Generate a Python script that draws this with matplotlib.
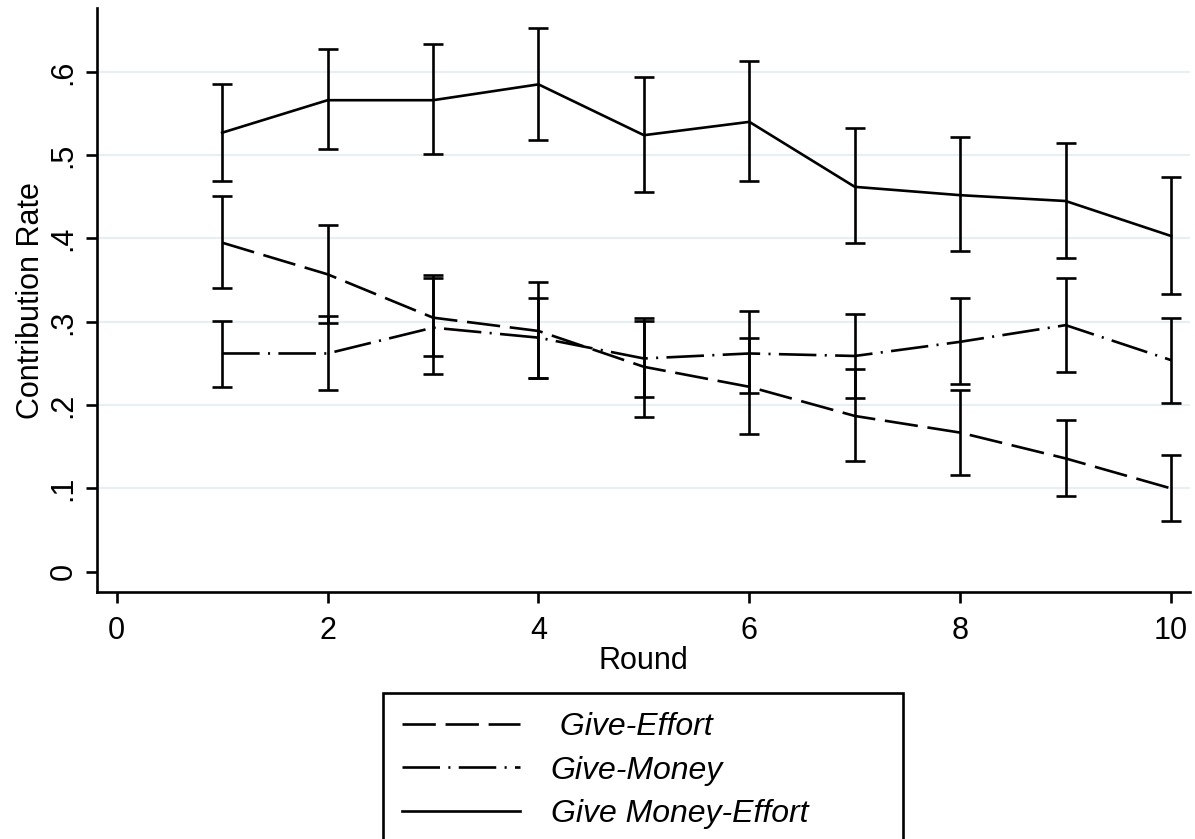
import matplotlib
matplotlib.use("Agg")
import matplotlib.pyplot as plt

plt.rcParams['font.family'] = ['Liberation Sans', 'DejaVu Sans']
plt.rcParams['lines.scale_dashes'] = False

# data
rounds = [1, 2, 3, 4, 5, 6, 7, 8, 9, 10]

effort = [0.395, 0.357, 0.305, 0.289, 0.246, 0.222, 0.187, 0.167, 0.136, 0.100]
effort_hi = [0.451, 0.416, 0.356, 0.348, 0.304, 0.280, 0.243, 0.218, 0.182, 0.140]
effort_lo = [0.341, 0.299, 0.259, 0.232, 0.186, 0.165, 0.133, 0.116, 0.0905, 0.061]

money = [0.262, 0.262, 0.293, 0.281, 0.256, 0.262, 0.259, 0.276, 0.296, 0.254]
money_hi = [0.301, 0.307, 0.352, 0.328, 0.301, 0.313, 0.309, 0.329, 0.352, 0.305]
money_lo = [0.222, 0.218, 0.237, 0.233, 0.210, 0.215, 0.209, 0.225, 0.240, 0.203]

both = [0.527, 0.566, 0.566, 0.585, 0.524, 0.540, 0.462, 0.452, 0.445, 0.403]
both_hi = [0.585, 0.628, 0.633, 0.653, 0.594, 0.613, 0.533, 0.522, 0.515, 0.474]
both_lo = [0.469, 0.508, 0.501, 0.518, 0.456, 0.469, 0.394, 0.385, 0.376, 0.333]

labels = [' Give-Effort', 'Give-Money', 'Give Money-Effort']
yticks = [0, 0.1, 0.2, 0.3, 0.4, 0.5, 0.6]
ytick_labels = ['0', '.1', '.2', '.3', '.4', '.5', '.6']
xticks = [0, 2, 4, 6, 8, 10]

fig = plt.figure(figsize=(11.95, 8.39), dpi=100)
ax = fig.add_axes([0.0809, 0.294, 0.915, 0.6965])

lw = 1.9
series = [
    (effort, effort_lo, effort_hi, (0, (24, 7))),
    (money, money_lo, money_hi, (0, (27, 6, 1.5, 6))),
    (both, both_lo, both_hi, '-'),
]

handles = []
for (vals, lo, hi, ls), lab in zip(series, labels):
    yerr = [[v - l for v, l in zip(vals, lo)], [h - v for v, h in zip(vals, hi)]]
    ax.errorbar(rounds, vals, yerr=yerr, fmt='none', ecolor='black',
                elinewidth=lw, capsize=7, capthick=lw)
    ln, = ax.plot(rounds, vals, color='black', lw=lw, linestyle=ls, label=lab)
    handles.append(ln)

ax.set_xlim(-0.19, 10.18)
ax.set_ylim(-0.0247, 0.6767)

for t in yticks[1:]:
    ax.axhline(t, color='#e7eff2', lw=1.6, zorder=0)

ax.set_yticks(yticks)
ax.set_yticklabels(ytick_labels, rotation=90, va='center', fontsize=22)
ax.set_xticks(xticks)
ax.set_xticklabels([str(v) for v in xticks], fontsize=22)

ax.tick_params(axis='both', direction='out', length=8, width=lw, color='black')
ax.tick_params(axis='y', pad=5)
ax.tick_params(axis='x', pad=9)

for s in ['top', 'right']:
    ax.spines[s].set_visible(False)
for s in ['left', 'bottom']:
    ax.spines[s].set_linewidth(lw)

ax.set_xlabel('Round', fontsize=22, labelpad=0)
ax.set_ylabel('Contribution Rate', fontsize=22, labelpad=2)

leg = fig.legend(handles=handles, loc='upper left',
                 bbox_to_anchor=(383 / 1195, 0, 520 / 1195, 1 - 693 / 839),
                 mode='expand', borderaxespad=0,
                 prop={'style': 'italic', 'size': 23},
                 handlelength=3.7, handletextpad=0.95, borderpad=0.6,
                 labelspacing=0.42, fancybox=False, framealpha=1,
                 edgecolor='black')
leg.get_frame().set_linewidth(lw)

fig.savefig('out.png', dpi=100)
